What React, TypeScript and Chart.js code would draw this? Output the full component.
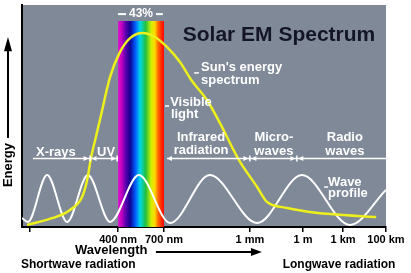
import React, { useEffect, useRef } from 'react';
import { Chart, registerables } from 'chart.js';

Chart.register(...registerables);

// ---- data (abstract position units: x 0..100 along the wavelength axis, y 0..100 relative energy) ----
const tickValues = [2.2, 26.4, 39.0, 62.6, 77.2, 88.2, 100];
const tickLabels = ['', '400 nm', '700 nm', '1 mm', '1 m', '1 km', '100 km'];

const sunX = [1.4, 8.5, 13.2, 16.5, 17.9, 19.0, 20.1, 21.4, 24.2, 26.9, 29.7, 33.2, 36.5, 39.8, 43.4, 46.5, 50.8, 54.4, 57.7, 59.9, 64.6, 66.8, 68.1, 72.8, 79.1, 88.2, 97.3];
const sunY = [0.9, 4.1, 7.7, 13.5, 21.2, 31.5, 39.2, 48.2, 67.6, 78.8, 85.1, 87.4, 85.6, 81.1, 74.3, 66.2, 57.2, 46.8, 36.0, 29.3, 18.0, 12.2, 10.4, 8.6, 6.8, 5.4, 4.5];

const waveX = [0, 1.6, 6.9, 12.4, 18.1, 24.2, 32.1, 40.7, 51.6, 64.6, 76.9, 90.1, 100];
const waveY = [4.0, 2.3, 23.4, 2.3, 23.4, 2.3, 23.4, 1.8, 23.4, 1.8, 23.4, 0.9, 16.7];

const visibleBandX = [26.4, 39.0];
const visibleBandTop = 92.8;
const visibleShare = '43%';

const regionDividers = [18.7, 62.6, 75.5];

// ---- look ----
const PLOT_BG = '#7f8998';
const FONT = "'Liberation Sans', Arial, Helvetica, sans-serif";
const spectrumStops: [number, string][] = [
  [0.0, '#e010d0'],
  [0.08, '#c000c0'],
  [0.16, '#6000b0'],
  [0.26, '#120090'],
  [0.38, '#0060ff'],
  [0.48, '#00d8e8'],
  [0.6, '#20c040'],
  [0.72, '#d0f000'],
  [0.8, '#ffd800'],
  [0.88, '#ff6000'],
  [1.0, '#ff0000'],
];

type Lbl = { text: string; x: number; y: number; align: CanvasTextAlign; size: number; color: string; rotate?: boolean };
const LABELS: Lbl[] = [
  { text: 'Solar EM Spectrum', x: 70.6, y: 86.5, align: 'center', size: 21, color: '#151528' },
  { text: visibleShare, x: 32.7, y: 95.9, align: 'center', size: 12, color: '#ffffff' },
  { text: "Sun's energy", x: 49.2, y: 72.1, align: 'left', size: 13, color: '#ffffff' },
  { text: 'spectrum', x: 49.2, y: 66.2, align: 'left', size: 13, color: '#ffffff' },
  { text: 'Visible', x: 40.7, y: 56.3, align: 'left', size: 13, color: '#ffffff' },
  { text: 'light', x: 40.9, y: 50.5, align: 'left', size: 13, color: '#ffffff' },
  { text: 'X-rays', x: 9.3, y: 33.8, align: 'center', size: 13, color: '#ffffff' },
  { text: 'UV', x: 23.1, y: 33.8, align: 'center', size: 13, color: '#ffffff' },
  { text: 'Infrared', x: 49.2, y: 40.5, align: 'center', size: 13, color: '#ffffff' },
  { text: 'radiation', x: 49.2, y: 34.4, align: 'center', size: 13, color: '#ffffff' },
  { text: 'Micro-', x: 69.2, y: 40.5, align: 'center', size: 13, color: '#ffffff' },
  { text: 'waves', x: 69.2, y: 34.2, align: 'center', size: 13, color: '#ffffff' },
  { text: 'Radio', x: 88.7, y: 40.5, align: 'center', size: 13, color: '#ffffff' },
  { text: 'waves', x: 88.7, y: 34.2, align: 'center', size: 13, color: '#ffffff' },
  { text: 'Wave', x: 84.1, y: 20.3, align: 'left', size: 13, color: '#ffffff' },
  { text: 'profile', x: 84.1, y: 15.3, align: 'left', size: 13, color: '#ffffff' },
  { text: 'Wavelength', x: 24.5, y: -10.4, align: 'center', size: 13, color: '#000000' },
  { text: 'Shortwave radiation', x: -0.3, y: -17.1, align: 'left', size: 12, color: '#000000' },
  { text: 'Longwave radiation', x: 87.1, y: -17.1, align: 'center', size: 12, color: '#000000' },
  { text: 'Energy', x: -3.85, y: 27.9, align: 'center', size: 13, color: '#000000', rotate: true },
];

const bgPlugin = {
  id: 'plotBg',
  beforeDraw(chart: any) {
    const { ctx, chartArea } = chart;
    if (!chartArea) return;
    ctx.save();
    ctx.fillStyle = PLOT_BG;
    ctx.fillRect(chartArea.left, chartArea.top, chartArea.right - chartArea.left, chartArea.bottom - chartArea.top);
    ctx.restore();
  },
};

const decoPlugin = {
  id: 'deco',
  afterDraw(chart: any) {
    const { ctx } = chart;
    const X = (u: number) => chart.scales.x.getPixelForValue(u);
    const Y = (v: number) => chart.scales.y.getPixelForValue(v);
    ctx.save();

    // region range line
    const ry = Math.round(Y(31.1)) + 0.5;
    ctx.strokeStyle = '#ffffff';
    ctx.fillStyle = '#ffffff';
    ctx.lineWidth = 1.5;
    const seg = (a: number, b: number) => {
      ctx.beginPath();
      ctx.moveTo(a, ry);
      ctx.lineTo(b, ry);
      ctx.stroke();
    };
    const head = (tip: number, dir: number) => {
      ctx.beginPath();
      ctx.moveTo(tip, ry);
      ctx.lineTo(tip - 5 * dir, ry - 2.5);
      ctx.lineTo(tip - 5 * dir, ry + 2.5);
      ctx.closePath();
      ctx.fill();
    };
    const tick = (px: number) => {
      ctx.beginPath();
      ctx.moveTo(px, ry - 3);
      ctx.lineTo(px, ry + 3);
      ctx.stroke();
    };
    seg(X(3.0), X(visibleBandX[0]));
    seg(X(visibleBandX[1]) + 3, X(100));
    tick(X(visibleBandX[0]) - 1);
    head(X(visibleBandX[0]) - 2, 1);
    head(X(visibleBandX[1]) + 3, -1);
    regionDividers.forEach((d) => {
      const px = X(d);
      tick(px);
      head(px - 1.5, 1);
      head(px + 1.5, -1);
    });

    // leader dashes
    const dash = (a: number, b: number, v: number) => {
      const y = Y(v);
      ctx.beginPath();
      ctx.moveTo(X(a), y);
      ctx.lineTo(X(b), y);
      ctx.stroke();
    };
    ctx.lineWidth = 1.5;
    dash(47.3, 48.6, 69.4);
    dash(39.3, 40.4, 54.5);
    dash(83.0, 84.1, 18.0);
    ctx.lineWidth = 2;
    dash(26.4, 28.6, 95.9);
    dash(36.8, 38.7, 95.9);

    // energy arrow
    ctx.strokeStyle = '#000000';
    ctx.fillStyle = '#000000';
    ctx.lineWidth = 2;
    const ex = X(-3.85);
    ctx.beginPath();
    ctx.moveTo(ex, Y(40.1));
    ctx.lineTo(ex, Y(79.7));
    ctx.stroke();
    ctx.beginPath();
    ctx.moveTo(ex, Y(85.6));
    ctx.lineTo(ex - 4, Y(79.2));
    ctx.lineTo(ex + 4, Y(79.2));
    ctx.closePath();
    ctx.fill();

    // wavelength arrow
    const wy = Y(-11.3);
    ctx.beginPath();
    ctx.moveTo(X(36.8), wy);
    ctx.lineTo(X(63.4), wy);
    ctx.stroke();
    ctx.beginPath();
    ctx.moveTo(X(65.9), wy);
    ctx.lineTo(X(62.9), wy - 4);
    ctx.lineTo(X(62.9), wy + 4);
    ctx.closePath();
    ctx.fill();

    // labels
    ctx.textBaseline = 'middle';
    LABELS.forEach((l) => {
      ctx.font = `bold ${l.size}px ${FONT}`;
      ctx.fillStyle = l.color;
      ctx.textAlign = l.align;
      if (l.rotate) {
        ctx.save();
        ctx.translate(X(l.x), Y(l.y));
        ctx.rotate(-Math.PI / 2);
        ctx.fillText(l.text, 0, 0);
        ctx.restore();
      } else {
        ctx.fillText(l.text, X(l.x), Y(l.y));
      }
    });
    ctx.restore();
  },
};

export default function App() {
  const ref = useRef<HTMLCanvasElement | null>(null);
  useEffect(() => {
    document.body.style.margin = '0';
    const canvas = ref.current;
    if (!canvas) return;
    const chart = new Chart(canvas, {
      type: 'line',
      data: {
        datasets: [
          {
            label: "Sun's energy spectrum",
            data: sunX.map((x, i) => ({ x, y: sunY[i] })),
            borderColor: '#eef01c',
            borderWidth: 2.5,
            pointRadius: 0,
            fill: false,
            cubicInterpolationMode: 'monotone',
            order: 0,
          },
          {
            label: 'Wave profile',
            data: waveX.map((x, i) => ({ x, y: waveY[i] })),
            borderColor: '#ffffff',
            borderWidth: 2,
            pointRadius: 0,
            fill: false,
            cubicInterpolationMode: 'monotone',
            order: 1,
          },
          {
            label: 'Visible light',
            data: visibleBandX.map((x) => ({ x, y: visibleBandTop })),
            borderColor: 'transparent',
            borderWidth: 0,
            pointRadius: 0,
            fill: 'origin',
            backgroundColor: (c: any) => {
              const ch = c.chart;
              if (!ch.chartArea) return 'transparent';
              const xs = ch.scales.x;
              const g = ch.ctx.createLinearGradient(xs.getPixelForValue(visibleBandX[0]), 0, xs.getPixelForValue(visibleBandX[1]), 0);
              spectrumStops.forEach(([p, col]) => g.addColorStop(p, col));
              return g;
            },
            order: 2,
          },
        ] as any,
      },
      options: {
        animation: false,
        responsive: false,
        devicePixelRatio: 1,
        layout: { padding: { left: 0, right: 25, top: 5, bottom: 0 } },
        plugins: { legend: { display: false }, tooltip: { enabled: false } },
        scales: {
          x: {
            type: 'linear',
            min: 0,
            max: 100,
            z: 1,
            afterFit: (s: any) => {
              s.height = 46;
            },
            afterBuildTicks: (s: any) => {
              s.ticks = tickValues.map((v) => ({ value: v }));
            },
            ticks: {
              autoSkip: false,
              maxRotation: 0,
              padding: 1,
              color: '#000000',
              font: { family: FONT, size: 11, weight: 'bold' },
              callback: (_v: any, i: number) => tickLabels[i],
            },
            grid: { display: true, drawOnChartArea: false, drawTicks: true, tickLength: 5, color: '#000000', lineWidth: 1.5 },
            border: { display: true, color: '#000000', width: 2 },
          },
          y: {
            type: 'linear',
            min: 0,
            max: 100,
            afterFit: (s: any) => {
              s.width = 22;
            },
            ticks: { display: false },
            grid: { display: true, drawOnChartArea: false, drawTicks: false },
            border: { display: true, color: '#000000', width: 2 },
          },
        },
      } as any,
      plugins: [bgPlugin, decoPlugin],
    });
    return () => chart.destroy();
  }, []);
  return (
    <div style={{ width: 411, height: 273, background: '#ffffff' }}>
      <canvas ref={ref} width={411} height={273} />
    </div>
  );
}
